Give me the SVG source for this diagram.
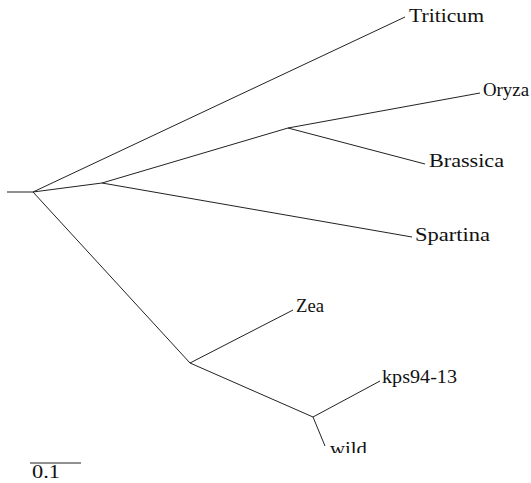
<svg xmlns="http://www.w3.org/2000/svg" width="531" height="483" viewBox="0 0 531 483">
<style>
.b{stroke:#222;stroke-width:1;fill:none}
.t{font-family:"Liberation Serif","DejaVu Serif",serif;font-size:19px;fill:#111}
</style>
<defs><clipPath id="c"><rect x="0" y="0" width="531" height="453"/></clipPath></defs>
<g id="connectors">
<line class="b" x1="7" y1="192" x2="33" y2="192"/>
<line class="b" x1="33" y1="192" x2="405" y2="17"/>
<line class="b" x1="33" y1="192" x2="102" y2="183"/>
<line class="b" x1="102" y1="183" x2="288" y2="128"/>
<line class="b" x1="288" y1="128" x2="480" y2="93"/>
<line class="b" x1="288" y1="128" x2="425" y2="164"/>
<line class="b" x1="102" y1="183" x2="412" y2="237"/>
<line class="b" x1="33" y1="192" x2="190" y2="363"/>
<line class="b" x1="190" y1="363" x2="293" y2="310"/>
<line class="b" x1="190" y1="363" x2="313" y2="417"/>
<line class="b" x1="313" y1="417" x2="380" y2="381"/>
<line class="b" x1="313" y1="417" x2="325" y2="446"/>
</g>
<g id="Triticum"><text class="t" x="409" y="22" textLength="75" lengthAdjust="spacingAndGlyphs">Triticum</text></g>
<g id="Oryza"><text class="t" x="483" y="96" textLength="46" lengthAdjust="spacingAndGlyphs">Oryza</text></g>
<g id="Brassica"><text class="t" x="429" y="167" textLength="75" lengthAdjust="spacingAndGlyphs">Brassica</text></g>
<g id="Spartina"><text class="t" x="415" y="241" textLength="75" lengthAdjust="spacingAndGlyphs">Spartina</text></g>
<g id="Zea"><text class="t" x="296" y="312" textLength="28" lengthAdjust="spacingAndGlyphs">Zea</text></g>
<g id="kps94-13"><text class="t" x="382" y="383" textLength="75" lengthAdjust="spacingAndGlyphs">kps94-13</text></g>
<g id="wild"><text class="t" x="330" y="455" textLength="37" lengthAdjust="spacingAndGlyphs" clip-path="url(#c)">wild</text></g>
<g id="scale">
<line class="b" x1="30" y1="463" x2="81" y2="463"/>
<text class="t" x="32" y="478" textLength="28" lengthAdjust="spacingAndGlyphs">0.1</text>
</g>
</svg>
